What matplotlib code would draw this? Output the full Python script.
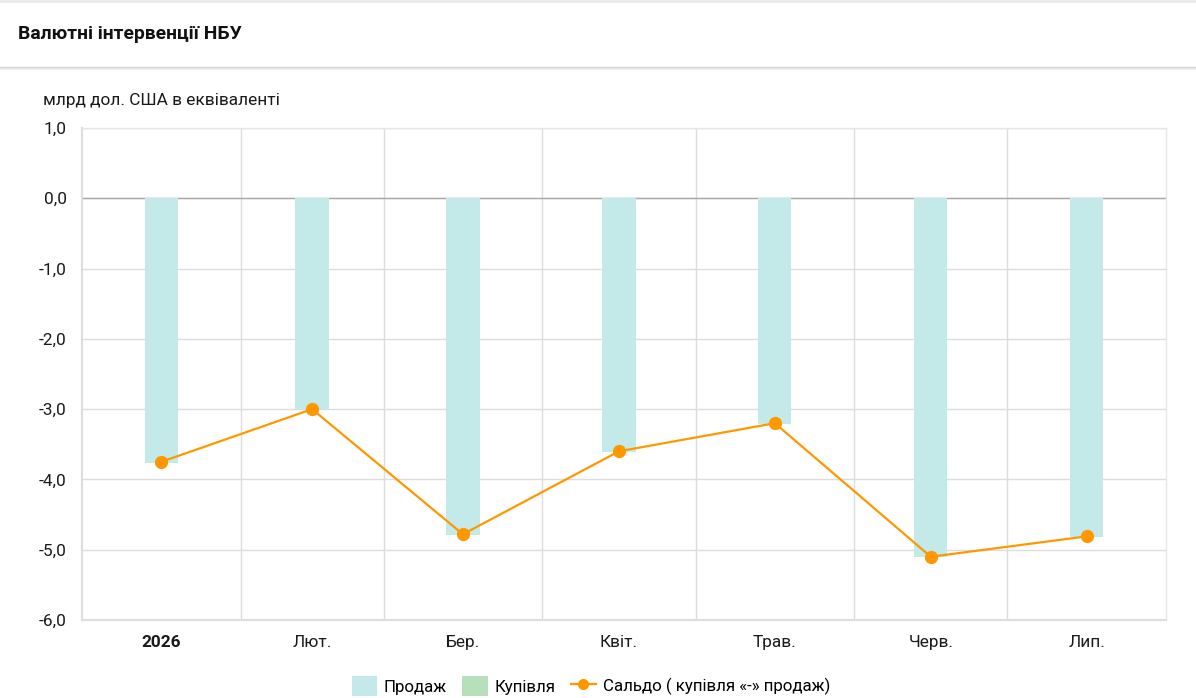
import matplotlib.pyplot as plt
from matplotlib.patches import Patch, Rectangle
from matplotlib.lines import Line2D
from matplotlib.ticker import FuncFormatter
import pandas as pd

plt.rcParams["font.family"] = ["Roboto", "DejaVu Sans"]

# data (млрд дол. США)
months = ["2026-01", "2026-02", "2026-03", "2026-04", "2026-05", "2026-06", "2026-07"]
month_labels = ["2026", "Лют.", "Бер.", "Квіт.", "Трав.", "Черв.", "Лип."]
sales = [-3.76, -3.00, -4.79, -3.61, -3.21, -5.11, -4.82]
purchases = [0.0, 0.0, 0.0, 0.0, 0.0, 0.0, 0.0]
balance = [-3.75, -3.00, -4.78, -3.60, -3.20, -5.10, -4.81]

starts = pd.to_datetime(months)
ends = starts + pd.offsets.MonthBegin(1)
mids = starts + (ends - starts) / 2

SALE_C = "#c3e9e9"
BUY_C = "#b7dfbc"
LINE_C = "#ff9800"
GRID_C = "#dcdcdc"

fig = plt.figure(figsize=(11.96, 6.98), dpi=100)

# header card
fig.add_artist(Rectangle((0, 0.995), 1, 0.005, transform=fig.transFigure, color="#ececec", lw=0))
for i, c in enumerate(["#d6d6d6", "#e4e4e4", "#f1f1f1"]):
    y = 1 - (67 + i) / 698
    fig.add_artist(Line2D([0, 1], [y, y], transform=fig.transFigure, color=c, lw=1))
fig.text(18 / 1196, 1 - 34 / 698, "Валютні інтервенції НБУ", fontsize=13.9, fontweight="bold",
         va="center", ha="left", color="#111111")
fig.text(43 / 1196, 1 - 101 / 698, "млрд дол. США в еквіваленті", fontsize=12.4,
         va="center", ha="left", color="#1a1a1a")

ax = fig.add_axes([82 / 1196, 1 - 620 / 698, (1166 - 82) / 1196, (620 - 128) / 698])

bar_w = pd.Timedelta(days=6.5)
ax.bar(mids, sales, width=bar_w, color=SALE_C, zorder=2)
ax.bar(mids, purchases, width=bar_w, color=BUY_C, zorder=2)
ax.plot(mids, balance, color=LINE_C, lw=1.6, marker="o", markersize=8.5, zorder=4)

ax.set_xlim(starts[0], ends[-1])
ax.set_ylim(-6, 1)
ax.set_yticks(range(-6, 2))
ax.yaxis.set_major_formatter(FuncFormatter(lambda v, p: f"{v:.1f}".replace(".", ",")))

ax.set_xticks(mids)
ax.set_xticklabels(month_labels)
ax.set_xticks(starts[1:], minor=True)
ax.tick_params(axis="x", which="both", length=0, pad=11, labelsize=12.4, colors="#1a1a1a")
ax.tick_params(axis="y", length=0, pad=11, labelsize=12.4, colors="#1a1a1a")
ax.get_xticklabels()[0].set_fontweight("bold")

ax.grid(True, axis="y", color=GRID_C, lw=1, zorder=0)
ax.grid(True, axis="x", which="minor", color=GRID_C, lw=1, zorder=0)
ax.grid(False, axis="x", which="major")
ax.axhline(0, color="#a8a8a8", lw=1, zorder=1.8)

for side in ["top", "right"]:
    ax.spines[side].set_color("#e6e6e6")
    ax.spines[side].set_linewidth(1)
for side in ["left", "bottom"]:
    ax.spines[side].set_color("#dedede")
    ax.spines[side].set_linewidth(1.6)

handles = [
    Patch(facecolor=SALE_C, edgecolor="none"),
    Patch(facecolor=BUY_C, edgecolor="none"),
    Line2D([0], [0], color=LINE_C, lw=1.6, marker="o", markersize=7),
]
fig.legend(handles, ["Продаж", "Купівля", "Сальдо ( купівля «-» продаж)"],
           loc="center", bbox_to_anchor=(0.494, 1 - 686 / 698), ncol=3, frameon=False,
           fontsize=12.2, handlelength=1.5, handleheight=1.5, handletextpad=0.4, columnspacing=0.9)

fig.savefig("out.png", dpi=100)
